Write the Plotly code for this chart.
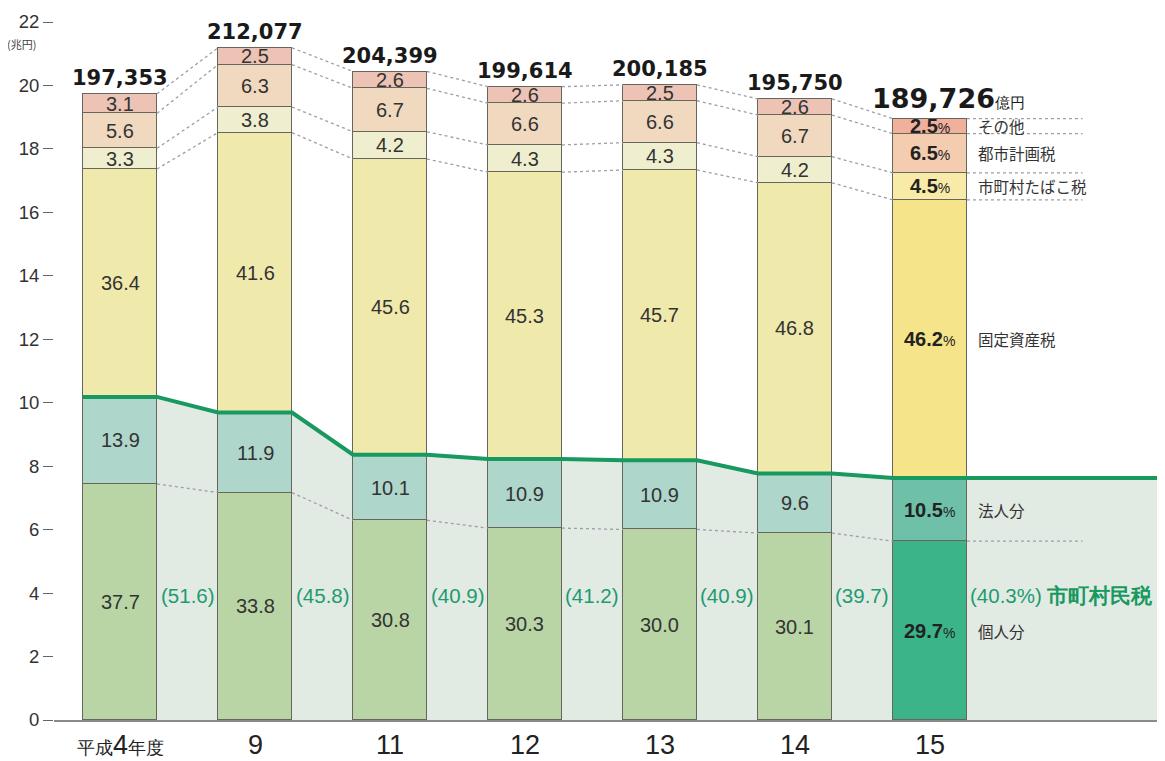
import plotly.graph_objects as go

# 市町村税収入額の構成比の推移
years = ["平成4年度", "9", "11", "12", "13", "14", "15"]
totals = [197353, 212077, 204399, 199614, 200185, 195750, 189726]  # 億円

kojin = [37.7, 33.8, 30.8, 30.3, 30.0, 30.1, 29.7]      # 個人分
houjin = [13.9, 11.9, 10.1, 10.9, 10.9, 9.6, 10.5]      # 法人分
kotei = [36.4, 41.6, 45.6, 45.3, 45.7, 46.8, 46.2]      # 固定資産税
tabako = [3.3, 3.8, 4.2, 4.3, 4.3, 4.2, 4.5]            # 市町村たばこ税
toshi = [5.6, 6.3, 6.7, 6.6, 6.6, 6.7, 6.5]             # 都市計画税
sonota = [3.1, 2.5, 2.6, 2.6, 2.5, 2.6, 2.5]            # その他
shiminzei = [51.6, 45.8, 40.9, 41.2, 40.9, 39.7, 40.3]  # 市町村民税

series_names = ["個人分", "法人分", "固定資産税", "市町村たばこ税", "都市計画税", "その他"]
series_pct = [kojin, houjin, kotei, tabako, toshi, sonota]
colors = ["#b9d5a6", "#aed6ca", "#f0e9ac", "#efefcf", "#f0d9bf", "#edc3b5"]
colors_last = ["#3cb489", "#6ec1a8", "#f6e48a", "#f8eba8", "#f4cdb0", "#f0b09c"]

NUM_FONT = "Arial, Liberation Sans, sans-serif"
BOLD_FONT = "DejaVu Sans, sans-serif"
JP_FONT = "Noto Sans CJK JP, sans-serif"
GREEN = "#17995f"

n = len(years)
xs = list(range(n))
w = 0.548
x_left, x_right = -0.489, 7.741

# heights in 兆円
heights = [[t / 1e4 * p[i] / 100 for i, t in enumerate(totals)] for p in series_pct]
cum = []
run = [0.0] * n
for h in heights:
    run = [a + b for a, b in zip(run, h)]
    cum.append(run)

fig = go.Figure()

# stacked bars
for k, name in enumerate(series_names):
    fig.add_trace(go.Bar(
        x=xs, y=heights[k], name=name, width=w,
        marker=dict(color=[colors[k]] * (n - 1) + [colors_last[k]],
                    line=dict(color="#66665c", width=1.3)),
        hoverinfo="skip", showlegend=False,
    ))

# dotted connectors between bars
dx, dy = [], []
for k in [0, 2, 3, 4, 5]:
    for i in range(n - 1):
        dx += [i + w / 2, i + 1 - w / 2, None]
        dy += [cum[k][i], cum[k][i + 1], None]
    dx += [n - 1 + w / 2, 7.13, None]
    dy += [cum[k][-1], cum[k][-1], None]
fig.add_trace(go.Scatter(x=dx, y=dy, mode="lines",
                         line=dict(color="#9b9eab", width=1.3, dash="dot"),
                         hoverinfo="skip", showlegend=False))

# 市町村民税 line
lx, ly = [], []
for i in range(n):
    lx += [i - w / 2, i + w / 2]
    ly += [cum[1][i], cum[1][i]]
lx.append(x_right)
ly.append(cum[1][-1])
fig.add_trace(go.Scatter(x=lx, y=ly, mode="lines",
                         line=dict(color=GREEN, width=4),
                         hoverinfo="skip", showlegend=False))

# shaded area under the line
path = "M %f,0 " % lx[0] + " ".join("L %f,%f" % (a, b) for a, b in zip(lx, ly)) + " L %f,0 Z" % lx[-1]
shapes = [dict(type="path", path=path, xref="x", yref="y", layer="below",
               fillcolor="#e2eae4", line=dict(width=0))]

annotations = []
# segment labels
for k in range(len(series_names)):
    for i in range(n):
        yc = cum[k][i] - heights[k][i] / 2
        if i < n - 1:
            txt = "%.1f" % series_pct[k][i]
            annotations.append(dict(x=i, y=yc, text=txt, showarrow=False,
                                    font=dict(family=NUM_FONT, size=20, color="#333333")))
        else:
            txt = "<b>%.1f</b><span style='font-size:14px'>%%</span>" % series_pct[k][i]
            annotations.append(dict(x=i, y=yc, text=txt, showarrow=False,
                                    font=dict(family=NUM_FONT, size=20, color="#222222")))
            annotations.append(dict(x=i + w / 2, y=yc, xanchor="left", xshift=9,
                                    text=series_names[k], showarrow=False,
                                    font=dict(family=JP_FONT, size=15.5, color="#333333")))

# totals
for i in range(n):
    if i < n - 1:
        annotations.append(dict(x=i, y=cum[5][i], yanchor="bottom", yshift=2,
                                text="<b>{:,}</b>".format(totals[i]), showarrow=False,
                                font=dict(family=BOLD_FONT, size=21, color="#1a1a1a")))
    else:
        annotations.append(dict(x=i, y=cum[5][i], yanchor="bottom", yshift=3, xshift=19,
                                text="<b>{:,}</b><span style='font-size:15px'>億円</span>".format(totals[i]),
                                showarrow=False,
                                font=dict(family=BOLD_FONT, size=27, color="#1a1a1a")))

# 市町村民税 shares
for i in range(n - 1):
    annotations.append(dict(x=i + 0.5, y=3.92, text="(%.1f)" % shiminzei[i], showarrow=False,
                            font=dict(family=NUM_FONT, size=20.5, color="#1f9b70")))
annotations.append(dict(x=n - 1 + w / 2, y=3.92, xanchor="left", xshift=1,
                        text="(%.1f%%) <b><span style='font-size:21px;color:%s'>市町村民税</span></b>"
                             % (shiminzei[-1], GREEN),
                        showarrow=False,
                        font=dict(family=NUM_FONT, size=20.5, color="#1f9b70")))

# category labels under the axis
for i in range(n):
    if i == 0:
        txt = "<span style='font-size:18px'>平成</span>4<span style='font-size:18px'>年度</span>"
    else:
        txt = years[i]
    annotations.append(dict(x=i, y=0, yanchor="top", yshift=-8, text=txt, showarrow=False,
                            font=dict(family=NUM_FONT, size=27, color="#222222")))

annotations.append(dict(x=0.0, xref="paper", xanchor="center", xshift=-33, y=21.3,
                        text="(兆円)", showarrow=False,
                        font=dict(family=JP_FONT, size=11, color="#444444")))

# the page body adds an 8px margin, so the figure is 8px smaller than the window
fig.update_layout(
    width=1157, height=753,
    margin=dict(l=46, r=0, t=14, b=41, autoexpand=False),
    paper_bgcolor="white", plot_bgcolor="white",
    barmode="stack", bargap=0,
    shapes=shapes, annotations=annotations,
    xaxis=dict(range=[x_left, x_right], showticklabels=False, automargin=False,
               showgrid=False, zeroline=False, showline=True, linecolor="#8a8a8a", linewidth=2,
               ticks="", fixedrange=True),
    yaxis=dict(range=[0, 22], tickvals=list(range(0, 23, 2)), showgrid=False, zeroline=False,
               automargin=False, showline=False, ticks="outside", ticklen=10,
               tickcolor="#666666", tickwidth=1.2,
               tickfont=dict(family=NUM_FONT, size=18.5, color="#333333"), fixedrange=True),
)

fig.write_html("out.html")
